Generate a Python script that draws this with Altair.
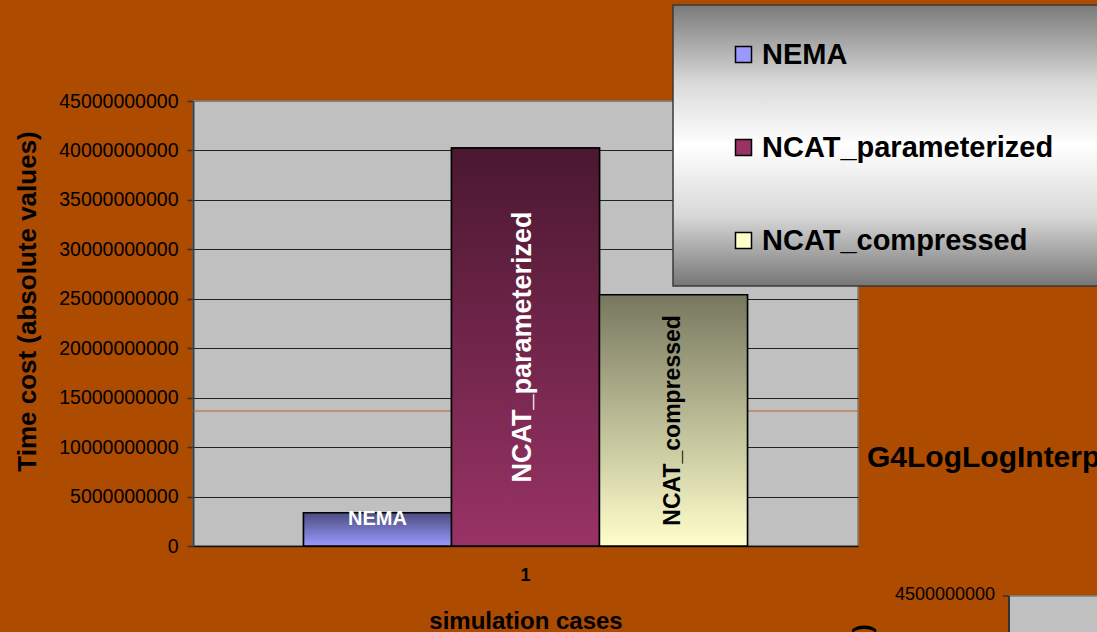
import altair as alt
import pandas as pd

# ---- data ----
cases = ["1"]
series = ["NEMA", "NCAT_parameterized", "NCAT_compressed"]
values = [3.35e9, 40.25e9, 25.4e9]
y_ticks = [0, 5e9, 10e9, 15e9, 20e9, 25e9, 30e9, 35e9, 40e9, 45e9]
base_colors = ["#9999FF", "#993366", "#FFFFCC"]
top_colors = ["#4D4D80", "#4A1830", "#77775F"]
label_colors = ["white", "white", "black"]

FONT = "Liberation Sans"

df = pd.DataFrame({
    "case": [cases[0]] * len(series),
    "series": series,
    "value": values,
})
df["mid"] = df["value"] / 2

one = pd.DataFrame({"d": [0]})

W, H = 665, 445

x_enc = alt.X("case:N", title="simulation cases",
              scale=alt.Scale(paddingInner=0, paddingOuter=0.249),
              axis=alt.Axis(labelAngle=0, labelFont=FONT, labelFontSize=18,
                            labelFontWeight="bold", labelColor="black",
                            labelPadding=20, ticks=False, tickSize=0,
                            domainColor="#111111", domainWidth=1.5,
                            titleFont=FONT, titleFontSize=24, titleFontWeight="bold",
                            titleColor="black", titleBaseline="alphabetic", titleY=82))


def xo():
    return alt.XOffset("series:N", sort=series,
                       scale=alt.Scale(domain=series, paddingInner=0, paddingOuter=0))


y_enc = alt.Y("value:Q", title="Time cost (absolute values)",
              scale=alt.Scale(domain=[0, 45e9], nice=False),
              axis=alt.Axis(values=y_ticks, format="d", labelFont=FONT,
                            labelFontSize=19.5, labelColor="black", labelPadding=9,
                            tickSize=6, tickColor="#333333", tickWidth=1.5,
                            domainColor="#404040", domainWidth=2,
                            grid=True,
                            gridColor=alt.condition("datum.value >= 45000000000",
                                                    alt.value("#808080"),
                                                    alt.value("#222222")),
                            gridWidth=1.2,
                            titleFont=FONT, titleFontSize=26, titleFontWeight="bold",
                            titleColor="black", titleAngle=270,
                            titleBaseline="alphabetic", titleX=-158, titleY=200))

# artifact line behind bars
art_line = alt.Chart(one).mark_rule(color="#B8642A", strokeWidth=1).encode(
    x=alt.value(0), x2=alt.value(W), y=alt.value(310))

# base bars providing the legend
base = alt.Chart(df).mark_bar(stroke="black", strokeWidth=1.5).encode(
    x=x_enc, xOffset=xo(), y=y_enc,
    color=alt.Color("series:N", sort=series,
                    scale=alt.Scale(domain=series, range=base_colors),
                    legend=alt.Legend(orient="none", legendX=536, legendY=-61,
                                      title=None, labelFont=FONT, labelFontSize=29,
                                      labelFontWeight="bold", labelColor="black",
                                      labelLimit=600,
                                      symbolType="square", symbolSize=256,
                                      symbolStrokeColor="black", symbolStrokeWidth=1.5,
                                      symbolOpacity=1, labelOffset=4, rowPadding=63,
                                      padding=0)),
)

layers = [art_line, base]

for s, c0, c1 in zip(series, top_colors, base_colors):
    grad = alt.LinearGradient(
        gradient="linear", x1=0, y1=0, x2=0, y2=1,
        stops=[alt.GradientStop(color=c0, offset=0),
               alt.GradientStop(color=c1, offset=1)])
    layers.append(
        alt.Chart(df).transform_filter(alt.datum.series == s)
        .mark_bar(fill=grad, stroke="black", strokeWidth=1.5)
        .encode(x="case:N", xOffset=xo(), y="value:Q")
    )

# legend box decoration
legend_grad = alt.LinearGradient(
    gradient="linear", x1=0, y1=0, x2=0, y2=1,
    stops=[alt.GradientStop(color="#7A7A7A", offset=0),
           alt.GradientStop(color="#DADADA", offset=0.28),
           alt.GradientStop(color="#FFFFFF", offset=0.5),
           alt.GradientStop(color="#D8D8D8", offset=0.75),
           alt.GradientStop(color="#767676", offset=1)])
legend_box = alt.Chart(one).mark_rect(fill=legend_grad, stroke="#3A3A3A",
                                      strokeWidth=1.5).encode(
    x=alt.value(480), x2=alt.value(915), y=alt.value(-96), y2=alt.value(185))
layers.append(legend_box)

# bar labels
lab_nema = alt.Chart(df).transform_filter(alt.datum.series == series[0]).mark_text(
    font=FONT, fontSize=20, fontWeight="bold", color=label_colors[0],
    baseline="top", dy=-4).encode(
    x="case:N", xOffset=xo(), y="value:Q", text="series:N")
lab_par = alt.Chart(df).transform_filter(alt.datum.series == series[1]).mark_text(
    font=FONT, fontSize=27, fontWeight="bold", color=label_colors[1],
    angle=270, baseline="middle", align="center", dy=-3).encode(
    x="case:N", xOffset=xo(), y="mid:Q", text="series:N")
lab_comp = alt.Chart(df).transform_filter(alt.datum.series == series[2]).mark_text(
    font=FONT, fontSize=23, fontWeight="bold", color=label_colors[2],
    angle=270, baseline="middle", align="center").encode(
    x="case:N", xOffset=xo(), y="mid:Q", text="series:N")
layers += [lab_nema, lab_par, lab_comp]

# neighbouring slide elements
g4 = alt.Chart(one).mark_text(font=FONT, fontSize=30, fontWeight="bold", color="black",
                              align="left", baseline="alphabetic").encode(
    x=alt.value(674), y=alt.value(366), text=alt.value("G4LogLogInterpolation"))
second_plot = alt.Chart(one).mark_rect(fill="#C0C0C0", stroke="#808080",
                                       strokeWidth=1.5).encode(
    x=alt.value(816), x2=alt.value(930), y=alt.value(495), y2=alt.value(560))
second_axis = alt.Chart(one).mark_rule(color="#333333", strokeWidth=2).encode(
    x=alt.value(816), y=alt.value(495), y2=alt.value(560))
second_tick = alt.Chart(one).mark_rule(color="#333333", strokeWidth=1.5).encode(
    x=alt.value(810), x2=alt.value(816), y=alt.value(495))
second_label = alt.Chart(one).mark_text(font=FONT, fontSize=18, color="black",
                                        align="right", baseline="middle").encode(
    x=alt.value(802), y=alt.value(494), text=alt.value("4500000000"))
second_title = alt.Chart(one).mark_text(font=FONT, fontSize=26, fontWeight="bold",
                                        color="black", angle=270, align="right",
                                        baseline="alphabetic").encode(
    x=alt.value(678), y=alt.value(523), text=alt.value("Time cost (absolute values)"))
layers += [g4, second_plot, second_axis, second_tick, second_label, second_title]

chart = alt.layer(*layers).properties(
    width=W, height=H,
    autosize=alt.AutoSizeParams(type="none"),
    padding={"left": 193, "top": 101, "right": 239, "bottom": 86},
    background="#AD4B00",
).configure_view(
    fill="#C0C0C0", stroke="#808080", strokeWidth=1.5
)

chart.save("out.html", embed_options={"renderer": "svg", "actions": False})
